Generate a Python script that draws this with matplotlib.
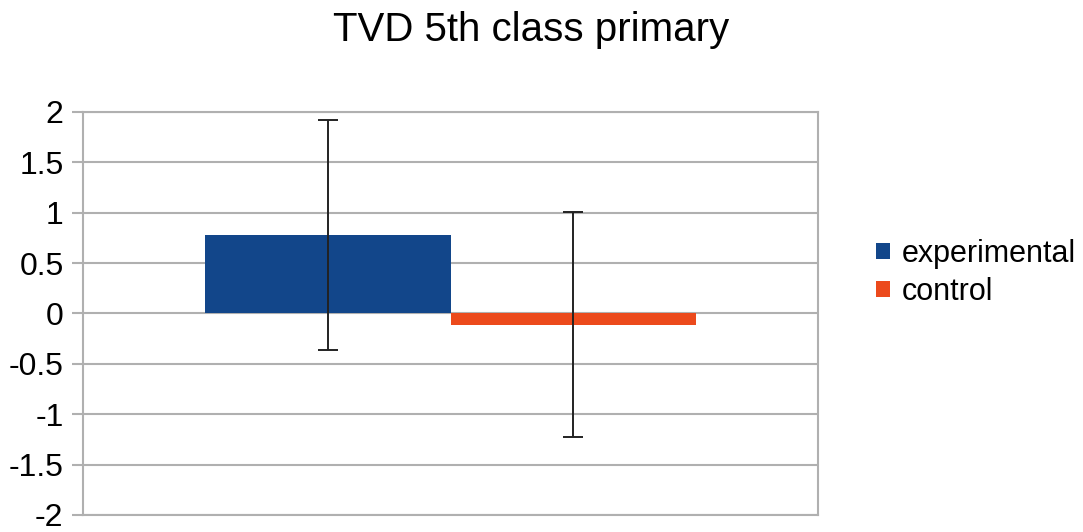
import matplotlib.pyplot as plt
from matplotlib.patches import Patch

# data
series = ['experimental', 'control']
means = [0.78, -0.11]
errors = [1.14, 1.12]
colors = ['#12468a', '#ec4a1c']
yticks = [2, 1.5, 1, 0.5, 0, -0.5, -1, -1.5, -2]

plt.rcParams['font.family'] = ['Liberation Sans', 'DejaVu Sans']

fig = plt.figure(figsize=(10.83, 5.32), dpi=100)
ax = fig.add_axes([0.0766, 0.032, 0.679, 0.7575])

bar_w = 0.334
xs = [-bar_w / 2, bar_w / 2]
for x, m, e, c in zip(xs, means, errors, colors):
    ax.bar(x, m, width=bar_w, color=c, zorder=2)
    ax.errorbar(x, m, yerr=e, fmt='none', ecolor='#222222', elinewidth=1.4,
                capsize=7, capthick=1.4, zorder=3)

ax.set_xlim(-0.5, 0.5)
ax.set_ylim(-2, 2)
ax.set_yticks(yticks)
ax.set_yticklabels([f'{t:g}' for t in yticks])
ax.set_xticks([])
ax.yaxis.grid(True, color='#b0b0b0', linewidth=1.5, zorder=0)
ax.set_axisbelow(True)
ax.tick_params(axis='y', length=8, width=1.5, color='#b0b0b0',
               labelsize=23, pad=6)
for s in ax.spines.values():
    s.set_color('#b0b0b0')
    s.set_linewidth(1.5)

fig.suptitle('TVD 5th class primary', fontsize=29, x=0.49, y=0.98)

handles = [Patch(facecolor=c, label=s) for s, c in zip(series, colors)]
fig.legend(handles=handles, loc='center left', bbox_to_anchor=(0.795, 0.487),
           frameon=False, fontsize=22, handlelength=0.45, handleheight=0.45,
           handletextpad=0.4, labelspacing=0.25, borderpad=0)

fig.savefig('out.png', dpi=100)
